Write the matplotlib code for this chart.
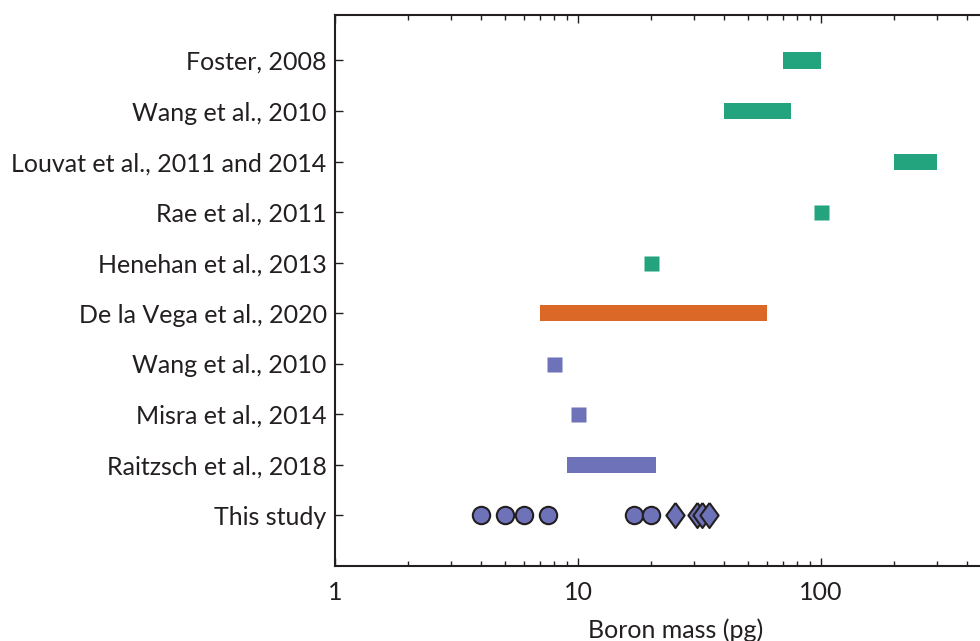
import numpy as np
import matplotlib.pyplot as plt

# --------------------
# data
# --------------------
studies = ["Foster, 2008", "Wang et al., 2010", "Louvat et al., 2011 and 2014",
           "Rae et al., 2011", "Henehan et al., 2013", "De la Vega et al., 2020",
           "Wang et al., 2010", "Misra et al., 2014", "Raitzsch et al., 2018",
           "This study"]
mass_lo = [70, 40, 200, 100, 20, 7, 8, 10, 9]
mass_hi = [100, 75, 300, 100, 20, 60, 8, 10, 21]
groups = ["mc", "mc", "mc", "mc", "mc", "la", "ms", "ms", "ms"]

circles = [4, 5, 6, 7.5, 17, 20]
diamonds = [25, 31, 32.5, 34.5]

colors = {"mc": "#23a47f", "la": "#dc6828", "ms": "#6e72b8"}
ink = "#231f20"

plt.rcParams['font.family'] = ['Lato', 'DejaVu Sans']

# --------------------
# draw
# --------------------
fig = plt.figure(figsize=(9.8, 6.41), dpi=100)
# axes runs past the right edge of the figure (cropped as in the original)
ax = fig.add_axes([335/980, 1-566/641, (1064-335)/980, (566-15)/641])

ypos = np.arange(len(studies))[::-1]

for i in range(len(mass_lo)):
    c = colors[groups[i]]
    if mass_lo[i] == mass_hi[i]:
        ax.plot(mass_lo[i], ypos[i], marker='s', ms=10.8, color=c, mec='none')
    else:
        ax.barh(ypos[i], mass_hi[i]-mass_lo[i], left=mass_lo[i], height=0.32,
                color=c, edgecolor='none')

dmark = [(0, 1), (0.73, 0), (0, -1), (-0.73, 0), (0, 1)]
ax.plot(circles, np.zeros(len(circles)), 'o', ms=12.5, mfc=colors["ms"],
        mec=ink, mew=1.5, ls='none')
ax.plot(diamonds, np.zeros(len(diamonds)), marker=dmark, ms=18, mfc=colors["ms"],
        mec=ink, mew=1.5, ls='none')

ax.set_xscale('log')
ax.set_xlim(1, 1000)
ax.set_ylim(-1, 9.9)

ax.set_yticks(ypos)
ax.set_yticklabels(studies)
ax.set_xticks([1, 10, 100])
ax.set_xticklabels(["1", "10", "100"])

ax.tick_params(axis='both', which='major', direction='in', length=6, width=1,
               color=ink, labelcolor=ink, labelsize=18)
ax.tick_params(axis='x', which='major', top=True, pad=11)
ax.tick_params(axis='x', which='minor', direction='in', top=True, length=3.5,
               width=1, color=ink)
ax.tick_params(axis='y', pad=6)

for s in ax.spines.values():
    s.set_color(ink)
    s.set_linewidth(1.5)

ax.set_xlabel("Boron mass (pg)", fontsize=18, color=ink)
ax.xaxis.set_label_coords((676-335)/(1064-335), -0.095)

fig.savefig("out.png", dpi=100)
